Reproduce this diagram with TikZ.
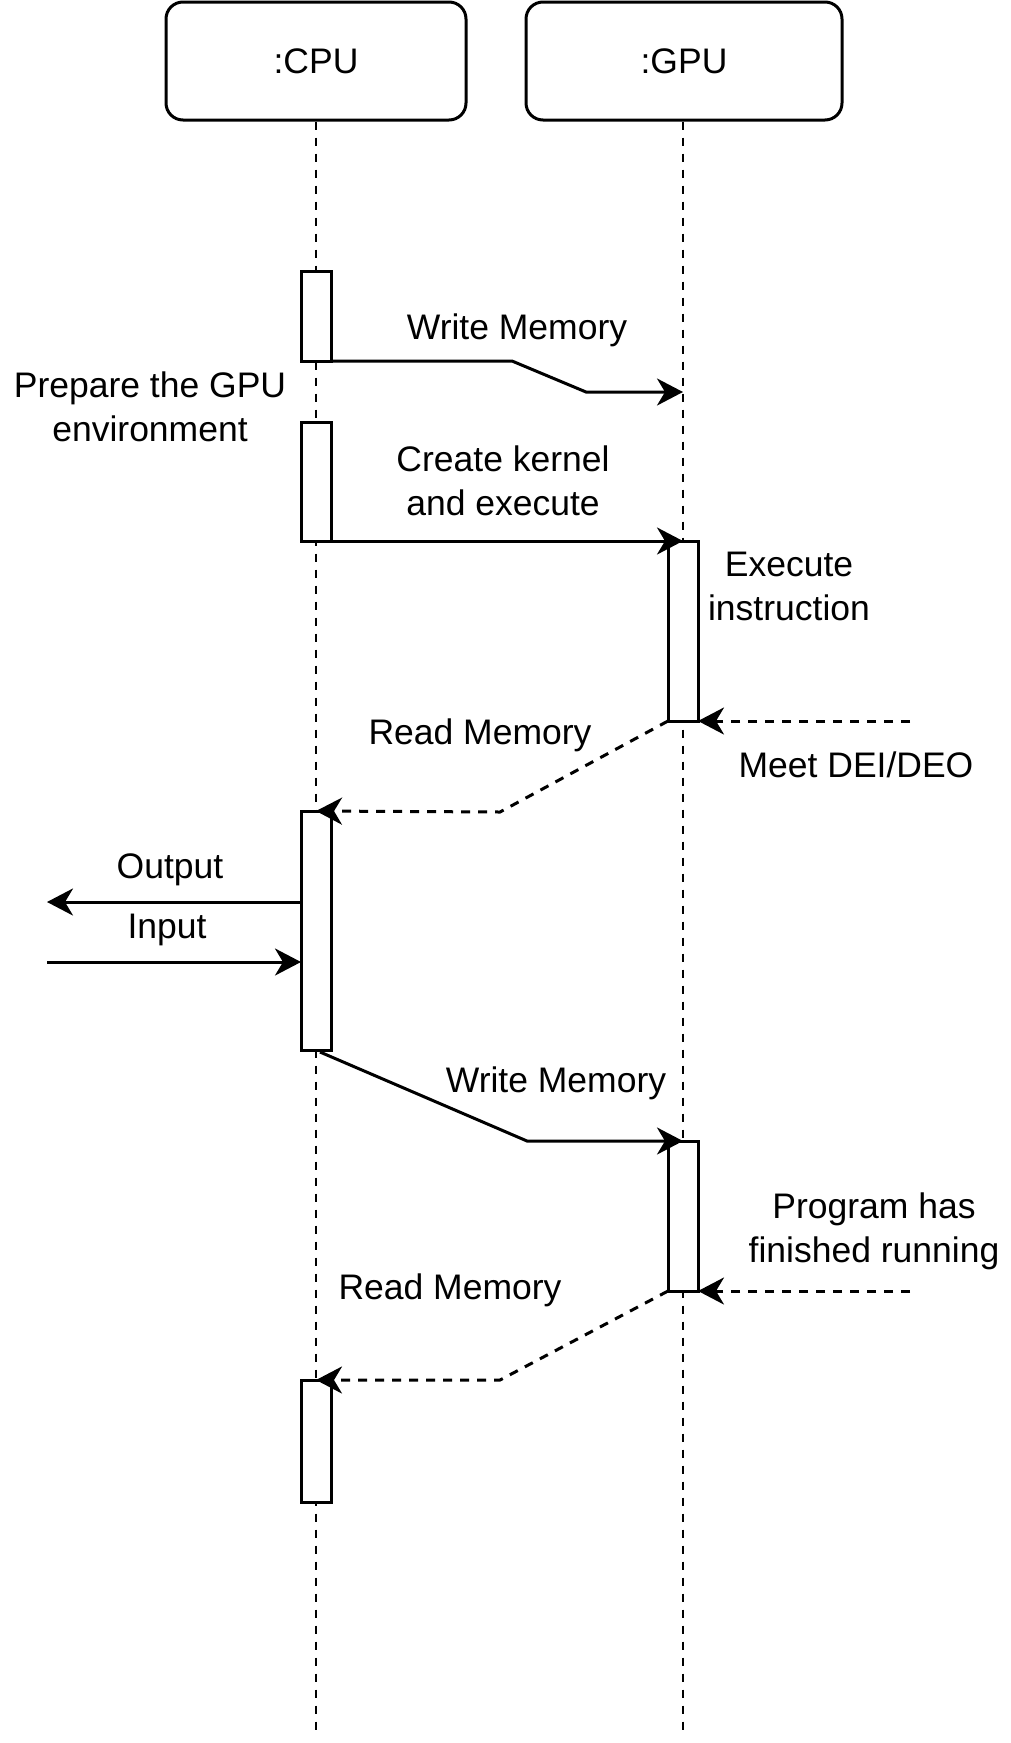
\documentclass[tikz,border=0pt]{standalone}
\usepackage{fontspec}
\setmainfont{Liberation Sans}
\usetikzlibrary{arrows.meta}

\begin{document}
\begin{tikzpicture}[x=1pt,y=-1pt,>={Stealth[length=26pt,width=27pt,inset=8pt]},line width=3pt,
  font=\fontsize{35.5}{44}\selectfont,
  head/.style={draw,rounded corners=17pt,minimum height=118pt,inner sep=0pt},
  act/.style={draw,fill=white,minimum width=30pt,inner sep=0pt,outer sep=0pt,anchor=north},
  life/.style={dash pattern=on 8pt off 8pt,line width=2.6pt},
  reply/.style={->,dash pattern=on 9pt off 8pt},
  lbl/.style={align=center,inner sep=1pt}]
\useasboundingbox (0,0) rectangle (1011,1743);
% heads and lifelines
\node[head,minimum width=300pt] (cpu) at (316,61) {:CPU};
\node[head,minimum width=316pt] (gpu) at (684,61) {:GPU};
\coordinate (cpuend) at (316,1731);
\coordinate (gpuend) at (683,1731);
\draw[life] (cpu.south) -- (cpuend);
\draw[life] (gpu.south -| gpuend) -- (gpuend);
% activations
\node[act,minimum height=90pt] (c1) at (316,271) {};
\node[act,minimum height=119pt] (c2) at (316,422) {};
\node[act,minimum height=239pt] (c3) at (316,811) {};
\node[act,minimum height=122pt] (c4) at (316,1380) {};
\node[act,minimum height=180pt] (g1) at (683,541) {};
\node[act,minimum height=150pt] (g2) at (683,1141) {};
% free ends
\coordinate (dei) at (910,721);
\coordinate (fin) at (910,1291);
\coordinate (out) at (47,902);
\coordinate (in) at (47,962);
\coordinate (w1) at (683,392);
\coordinate (w2) at (683,1141);
% messages
\draw[->] (c1.south east) -- (512,361) -- (586,392) -- (w1);
\draw[->] (c2.south east) -- (g1.north);
\draw[reply] (dei) -- (g1.south east);
\draw[reply] (g1.south west) -- (500,812) -- (c3.north);
\draw[->] (c3.west |- out) -- (out);
\draw[->] (in) -- (c3.west |- in);
\draw[->] (c3.south) ++(4,2) -- (527,1141) -- (w2);
\draw[reply] (fin) -- (g2.south east);
\draw[reply] (g2.south west) -- (500,1380) -- (c4.north);
% labels
\node[lbl] (lw1) at (517,330) {Write Memory};
\node[lbl] (lprep) at (150,407) {Prepare the GPU\\environment};
\node[lbl] (lck) at (503,481) {Create kernel\\and execute};
\node[lbl] (lexe) at (789,586) {Execute\\instruction};
\node[lbl] (lr1) at (480,735) {Read Memory};
\node[lbl] (ldei) at (856,765) {Meet DEI/DEO};
\node[lbl] (lout) at (170,870) {Output};
\node[lbl] (lin) at (167,930) {Input};
\node[lbl,fill=white] (lw2) at (556,1083) {Write Memory};
\node[lbl] (lfin) at (874,1231) {Program has\\finished running};
\node[lbl] (lr2) at (450,1290) {Read Memory};
\end{tikzpicture}
\end{document}
